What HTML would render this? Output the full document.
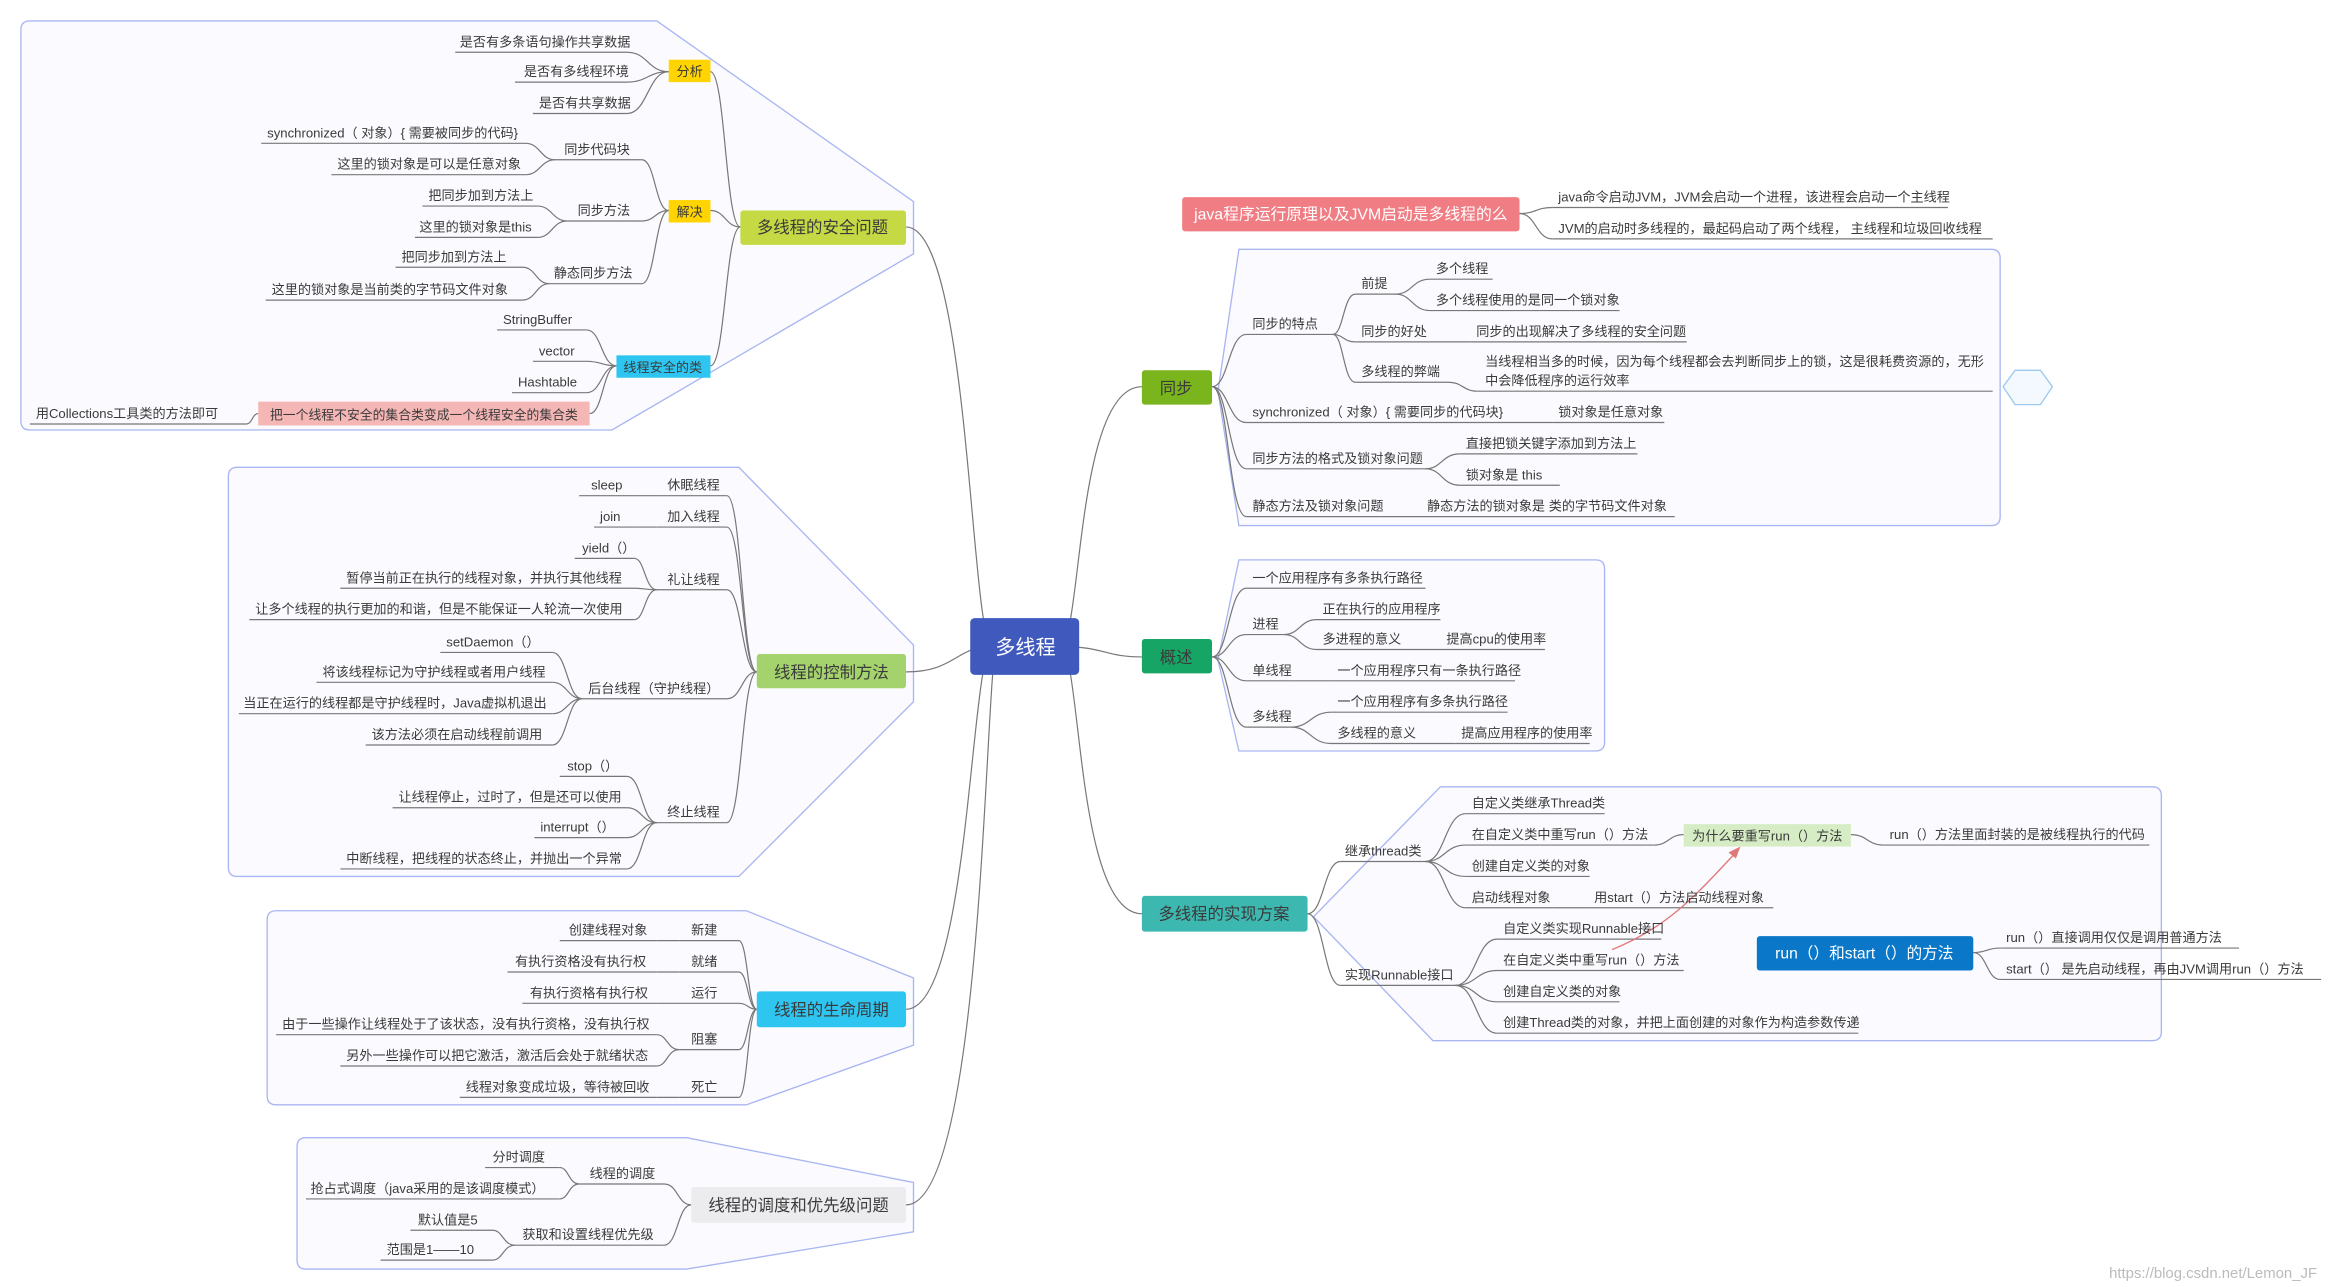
<!DOCTYPE html>
<html><head><meta charset="utf-8"><style>
html,body{margin:0;padding:0;background:#fff;}
svg{display:block;}
text{font-family:"Liberation Sans","Noto Sans CJK SC",sans-serif;font-size:8.8px;fill:#3a3a3a;}
.b{font-size:11px;}
.l{stroke:#777;stroke-width:0.8;fill:none;}
.c{stroke:#777;stroke-width:0.8;fill:none;}
.bd{stroke:#aab6f2;stroke-width:0.9;fill:#fbfbff;}
</style></head><body>
<svg width="2333" height="1287" viewBox="0 0 1563 862" preserveAspectRatio="none" xmlns="http://www.w3.org/2000/svg">
<rect width="1563" height="862" fill="#fff"/>
<path class="bd" d="M20,14 H440 L612,135 V170 L410,288 H20 Q14,288 14,282 V20 Q14,14 20,14 Z"/>
<path class="bd" d="M159,313 H495 L612,432 V470 L495,587 H159 Q153,587 153,581 V319 Q153,313 159,313 Z"/>
<path class="bd" d="M185,610 H500 L612,655 V700 L500,740 H185 Q179,740 179,734 V616 Q179,610 185,610 Z"/>
<path class="bd" d="M205,762 H460 L612,792 V825 L460,850 H205 Q199,850 199,844 V768 Q199,762 205,762 Z"/>
<path class="bd" d="M830,167 H1334 Q1340,167 1340,173 V346 Q1340,352 1334,352 H830 L816,262 Z"/>
<path class="bd" d="M830,375 H1069 Q1075,375 1075,381 V497 Q1075,503 1069,503 H830 L816,442 Z"/>
<path class="bd" d="M965,527 H1442 Q1448,527 1448,533 V691 Q1448,697 1442,697 H960 L880,614 Z"/>
<polygon points="1342,259 1350,248 1367,248 1375,259 1367,271 1350,271" fill="#f3f9fe" stroke="#9cc8ee" stroke-width="0.9"/>

<g class="c">
<path d="M607,152 C650,152 650,433 665,433"/>
<path d="M607,450 C640,450 640,433 665,433"/>
<path d="M607,676 C650,676 650,433 665,433"/>
<path d="M607,807 C660,807 660,433 668,433"/>
<path d="M710,433 C725,433 720,259 765,259"/>
<path d="M710,433 C740,433 740,440 765,440"/>
<path d="M710,433 C725,433 720,612 765,612"/>
</g>

<g class="l">
<path d="M305,35 H420"/><path d="M345,55 H420"/><path d="M357,76 H420"/>
<path d="M372,107 H430"/><path d="M380,148 H430"/><path d="M368,190 H430"/>
<path d="M175,96 H352"/><path d="M222,117 H352"/>
<path d="M283,138 H360"/><path d="M278,159 H360"/>
<path d="M265,179 H350"/><path d="M178,201 H350"/>
<path d="M333,221 H393"/><path d="M357,242 H393"/><path d="M343,263 H393"/>
<path d="M20,284 H165"/>
</g>
<g class="c">
<path d="M420,35 C434,35 434,48 448,48"/><path d="M420,55 C434,55 434,48 448,48"/><path d="M420,76 C434,76 434,48 448,48"/>
<path d="M476,48 C486,48 486,152 496,152"/><path d="M476,141 C486,141 486,152 496,152"/>
<path d="M476,245 C486,245 486,152 496,152"/>
<path d="M430,107 C439,107 439,141 448,141"/><path d="M430,148 C439,148 439,141 448,141"/><path d="M430,190 C439,190 439,141 448,141"/>
<path d="M352,96 C362,96 362,107 372,107"/><path d="M352,117 C362,117 362,107 372,107"/>
<path d="M360,138 C370,138 370,148 380,148"/><path d="M360,159 C370,159 370,148 380,148"/>
<path d="M350,179 C359,179 359,190 368,190"/><path d="M350,201 C359,201 359,190 368,190"/>
<path d="M393,221 C403,221 403,245 413,245"/><path d="M393,242 C403,242 403,245 413,245"/><path d="M393,263 C403,263 403,245 413,245"/>
<path d="M395,277 C404,277 404,245 413,245"/>
<path d="M165,284 C169,284 169,277 173,277"/>
</g>
<rect x="496" y="141" width="111" height="23" rx="2" fill="#c5d944"/>
<text class="b" x="551" y="156" text-anchor="middle">多线程的安全问题</text>
<rect x="448" y="40" width="28" height="15" fill="#ffd400"/><text x="462" y="51" text-anchor="middle">分析</text>
<rect x="448" y="134" width="28" height="15" fill="#ffd400"/><text x="462" y="145" text-anchor="middle">解决</text>
<rect x="413" y="238" width="63" height="15" fill="#2ec5f0"/><text x="444" y="249" text-anchor="middle">线程安全的类</text>
<rect x="173" y="269" width="222" height="16" fill="#f4b7b5"/><text x="284" y="281" text-anchor="middle" style="font-size:8.6px">把一个线程不安全的集合类变成一个线程安全的集合类</text>
<text x="308" y="31">是否有多条语句操作共享数据</text>
<text x="351" y="51">是否有多线程环境</text>
<text x="361" y="72">是否有共享数据</text>
<text x="378" y="103">同步代码块</text>
<text x="387" y="144">同步方法</text>
<text x="371" y="186">静态同步方法</text>
<text x="179" y="92">synchronized（ 对象）{ 需要被同步的代码}</text>
<text x="226" y="113">这里的锁对象是可以是任意对象</text>
<text x="287" y="134">把同步加到方法上</text>
<text x="281" y="155">这里的锁对象是this</text>
<text x="269" y="175">把同步加到方法上</text>
<text x="182" y="197">这里的锁对象是当前类的字节码文件对象</text>
<text x="337" y="217">StringBuffer</text>
<text x="361" y="238">vector</text>
<text x="347" y="259">Hashtable</text>
<text x="24" y="280">用Collections工具类的方法即可</text>

<g class="l">
<path d="M440,332 H487"/><path d="M388,332 H425"/>
<path d="M440,353 H487"/><path d="M398,353 H425"/>
<path d="M440,395 H487"/><path d="M385,374 H425"/><path d="M228,394 H425"/><path d="M167,415 H425"/>
<path d="M390,468 H487"/><path d="M295,437 H370"/><path d="M212,457 H370"/><path d="M160,478 H370"/><path d="M245,499 H370"/>
<path d="M440,551 H487"/><path d="M375,520 H420"/><path d="M263,541 H420"/><path d="M358,561 H420"/><path d="M228,582 H420"/>
</g>
<g class="c">
<path d="M487,332 C497,332 497,450 507,450"/><path d="M487,353 C497,353 497,450 507,450"/><path d="M487,395 C497,395 497,450 507,450"/><path d="M487,468 C497,468 497,450 507,450"/><path d="M487,551 C497,551 497,450 507,450"/>
<path d="M425,332 H440"/><path d="M425,353 H440"/>
<path d="M425,374 C432,374 432,395 440,395"/><path d="M425,394 C432,394 432,395 440,395"/><path d="M425,415 C432,415 432,395 440,395"/>
<path d="M370,437 C380,437 380,468 390,468"/><path d="M370,457 C380,457 380,468 390,468"/><path d="M370,478 C380,478 380,468 390,468"/><path d="M370,499 C380,499 380,468 390,468"/>
<path d="M420,520 C430,520 430,551 440,551"/><path d="M420,541 C430,541 430,551 440,551"/><path d="M420,561 C430,561 430,551 440,551"/><path d="M420,582 C430,582 430,551 440,551"/>
</g>
<rect x="507" y="438" width="100" height="23" rx="2" fill="#a4d26c"/>
<text class="b" x="557" y="454" text-anchor="middle">线程的控制方法</text>
<text x="447" y="328">休眠线程</text><text x="396" y="328">sleep</text>
<text x="447" y="349">加入线程</text><text x="402" y="349">join</text>
<text x="447" y="391">礼让线程</text><text x="390" y="370">yield（）</text>
<text x="232" y="390">暂停当前正在执行的线程对象，并执行其他线程</text>
<text x="171" y="411">让多个线程的执行更加的和谐，但是不能保证一人轮流一次使用</text>
<text x="394" y="464">后台线程（守护线程）</text>
<text x="299" y="433">setDaemon（）</text>
<text x="216" y="453">将该线程标记为守护线程或者用户线程</text>
<text x="163" y="474">当正在运行的线程都是守护线程时，Java虚拟机退出</text>
<text x="249" y="495">该方法必须在启动线程前调用</text>
<text x="447" y="547">终止线程</text>
<text x="380" y="516">stop（）</text>
<text x="267" y="537">让线程停止，过时了，但是还可以使用</text>
<text x="362" y="557">interrupt（）</text>
<text x="232" y="578">中断线程，把线程的状态终止，并抛出一个异常</text>

<g class="l">
<path d="M455,630 H495"/><path d="M375,630 H440"/>
<path d="M455,651 H495"/><path d="M340,651 H440"/>
<path d="M455,672 H495"/><path d="M350,672 H440"/>
<path d="M455,703 H495"/><path d="M185,693 H440"/><path d="M228,714 H440"/>
<path d="M455,735 H495"/><path d="M308,735 H440"/>
</g>
<g class="c">
<path d="M495,630 C501,630 501,676 507,676"/><path d="M495,651 C501,651 501,676 507,676"/><path d="M495,672 C501,672 501,676 507,676"/><path d="M495,703 C501,703 501,676 507,676"/><path d="M495,735 C501,735 501,676 507,676"/>
<path d="M440,630 H455"/><path d="M440,651 H455"/><path d="M440,672 H455"/><path d="M440,735 H455"/>
<path d="M440,693 C447,693 447,703 455,703"/><path d="M440,714 C447,714 447,703 455,703"/>
</g>
<rect x="507" y="664" width="100" height="24" rx="2" fill="#2ec5f0"/>
<text class="b" x="557" y="680" text-anchor="middle">线程的生命周期</text>
<text x="463" y="626">新建</text><text x="381" y="626">创建线程对象</text>
<text x="463" y="647">就绪</text><text x="345" y="647">有执行资格没有执行权</text>
<text x="463" y="668">运行</text><text x="355" y="668">有执行资格有执行权</text>
<text x="463" y="699">阻塞</text><text x="189" y="689">由于一些操作让线程处于了该状态，没有执行资格，没有执行权</text>
<text x="232" y="710">另外一些操作可以把它激活，激活后会处于就绪状态</text>
<text x="463" y="731">死亡</text><text x="312" y="731">线程对象变成垃圾，等待被回收</text>

<g class="l">
<path d="M388,793 H445"/><path d="M325,782 H375"/><path d="M205,803 H375"/>
<path d="M345,834 H445"/><path d="M275,824 H330"/><path d="M255,844 H330"/>
</g>
<g class="c">
<path d="M445,793 C454,793 454,807 463,807"/><path d="M445,834 C454,834 454,807 463,807"/>
<path d="M375,782 C381,782 381,793 388,793"/><path d="M375,803 C381,803 381,793 388,793"/>
<path d="M330,824 C337,824 337,834 345,834"/><path d="M330,844 C337,844 337,834 345,834"/>
</g>
<rect x="463" y="795" width="144" height="24" rx="2" fill="#ececef"/>
<text class="b" x="535" y="811" text-anchor="middle">线程的调度和优先级问题</text>
<text x="395" y="789">线程的调度</text><text x="330" y="778">分时调度</text>
<text x="208" y="799">抢占式调度（java采用的是该调度模式）</text>
<text x="350" y="830">获取和设置线程优先级</text><text x="280" y="820">默认值是5</text><text x="259" y="840">范围是1——10</text>

<rect x="650" y="414" width="73" height="38" rx="3" fill="#3f59bd"/>
<text x="687" y="438" text-anchor="middle" style="font-size:13.5px;fill:#fff">多线程</text>

<g class="l"><path d="M1040,139 H1305"/><path d="M1040,160 H1335"/></g>
<g class="c"><path d="M1018,143 C1029,143 1029,139 1040,139"/><path d="M1018,143 C1029,143 1029,160 1040,160"/></g>
<rect x="792" y="132" width="226" height="23" rx="2" fill="#f07d83"/>
<text x="905" y="147" text-anchor="middle" textLength="210" lengthAdjust="spacingAndGlyphs" style="font-size:10.5px;fill:#fff">java程序运行原理以及JVM启动是多线程的么</text>
<text x="1044" y="135">java命令启动JVM，JVM会启动一个进程，该进程会启动一个主线程</text>
<text x="1044" y="156">JVM的启动时多线程的，最起码启动了两个线程，  主线程和垃圾回收线程</text>

<g class="l">
<path d="M835,224 H893"/><path d="M908,197 H935"/><path d="M958,187 H1000"/><path d="M958,208 H1085"/>
<path d="M908,229 H960"/><path d="M985,229 H1130"/>
<path d="M908,256 H970"/><path d="M990,262 H1335"/>
<path d="M835,283 H1020"/><path d="M1040,283 H1115"/>
<path d="M835,314 H955"/><path d="M978,304 H1097"/><path d="M978,325 H1045"/>
<path d="M835,346 H925"/><path d="M952,346 H1122"/>
</g>
<g class="c">
<path d="M812,259 C823,259 823,224 835,224"/><path d="M812,259 C823,259 823,283 835,283"/><path d="M812,259 C823,259 823,314 835,314"/><path d="M812,259 C823,259 823,346 835,346"/>
<path d="M893,224 C900,224 900,197 908,197"/><path d="M893,224 C900,224 900,229 908,229"/><path d="M893,224 C900,224 900,256 908,256"/>
<path d="M935,197 C946,197 946,187 958,187"/><path d="M935,197 C946,197 946,208 958,208"/>
<path d="M960,229 H985"/><path d="M970,256 C980,256 980,262 990,262"/>
<path d="M1020,283 H1040"/>
<path d="M955,314 C966,314 966,304 978,304"/><path d="M955,314 C966,314 966,325 978,325"/>
<path d="M925,346 H952"/>
</g>
<rect x="765" y="248" width="47" height="23" rx="2" fill="#7ab51d"/>
<text class="b" x="788" y="264" text-anchor="middle">同步</text>
<text x="839" y="220">同步的特点</text>
<text x="912" y="193">前提</text><text x="962" y="183">多个线程</text><text x="962" y="204">多个线程使用的是同一个锁对象</text>
<text x="912" y="225">同步的好处</text><text x="989" y="225">同步的出现解决了多线程的安全问题</text>
<text x="912" y="252">多线程的弊端</text>
<text x="995" y="245">当线程相当多的时候，因为每个线程都会去判断同步上的锁，这是很耗费资源的，无形</text>
<text x="995" y="258">中会降低程序的运行效率</text>
<text x="839" y="279">synchronized（ 对象）{ 需要同步的代码块}</text><text x="1044" y="279">锁对象是任意对象</text>
<text x="839" y="310">同步方法的格式及锁对象问题</text>
<text x="982" y="300">直接把锁关键字添加到方法上</text><text x="982" y="321">锁对象是    this</text>
<text x="839" y="342">静态方法及锁对象问题</text><text x="956" y="342">静态方法的锁对象是   类的字节码文件对象</text>

<g class="l">
<path d="M835,394 H955"/>
<path d="M835,425 H860"/><path d="M882,415 H965"/><path d="M882,435 H940"/><path d="M965,435 H1035"/>
<path d="M835,456 H865"/><path d="M892,456 H1015"/>
<path d="M835,487 H865"/><path d="M892,477 H1010"/><path d="M892,498 H948"/><path d="M975,498 H1065"/>
</g>
<g class="c">
<path d="M812,440 C823,440 823,394 835,394"/><path d="M812,440 C823,440 823,425 835,425"/><path d="M812,440 C823,440 823,456 835,456"/><path d="M812,440 C823,440 823,487 835,487"/>
<path d="M860,425 C871,425 871,415 882,415"/><path d="M860,425 C871,425 871,435 882,435"/><path d="M940,435 H965"/>
<path d="M865,456 H892"/>
<path d="M865,487 C878,487 878,477 892,477"/><path d="M865,487 C878,487 878,498 892,498"/><path d="M948,498 H975"/>
</g>
<rect x="765" y="428" width="47" height="23" rx="2" fill="#17a566"/>
<text class="b" x="788" y="444" text-anchor="middle">概述</text>
<text x="839" y="390">一个应用程序有多条执行路径</text>
<text x="839" y="421">进程</text><text x="886" y="411">正在执行的应用程序</text><text x="886" y="431">多进程的意义</text><text x="969" y="431">提高cpu的使用率</text>
<text x="839" y="452">单线程</text><text x="896" y="452">一个应用程序只有一条执行路径</text>
<text x="839" y="483">多线程</text><text x="896" y="473">一个应用程序有多条执行路径</text><text x="896" y="494">多线程的意义</text><text x="979" y="494">提高应用程序的使用率</text>

<g class="l">
<path d="M898,577 H955"/><path d="M982,545 H1075"/><path d="M982,566 H1108"/><path d="M982,587 H1065"/><path d="M982,608 H1040"/><path d="M1065,608 H1188"/>
<path d="M1262,566 H1440"/>
<path d="M898,660 H975"/><path d="M1003,629 H1113"/><path d="M1003,650 H1128"/><path d="M1003,671 H1085"/><path d="M1003,692 H1245"/>
<path d="M1340,635 H1500"/><path d="M1340,656 H1555"/>
</g>
<g class="c">
<path d="M876,612 C887,612 887,577 898,577"/><path d="M876,612 C887,612 887,660 898,660"/>
<path d="M955,577 C968,577 968,545 982,545"/><path d="M955,577 C968,577 968,566 982,566"/><path d="M955,577 C968,577 968,587 982,587"/><path d="M955,577 C968,577 968,608 982,608"/>
<path d="M1040,608 H1065"/><path d="M1108,566 C1118,566 1118,559 1128,559"/><path d="M1240,559 C1251,559 1251,566 1262,566"/>
<path d="M975,660 C989,660 989,629 1003,629"/><path d="M975,660 C989,660 989,650 1003,650"/><path d="M975,660 C989,660 989,671 1003,671"/><path d="M975,660 C989,660 989,692 1003,692"/>
<path d="M1322,638 C1331,638 1331,635 1340,635"/><path d="M1322,638 C1331,638 1331,656 1340,656"/>
</g>
<path d="M1080,636 C1120,620 1140,595 1163,571" stroke="#e0787a" stroke-width="0.9" fill="none"/>
<polygon points="1166,567 1158,571 1163,575" fill="#e0787a"/>
<rect x="765" y="600" width="111" height="24" rx="2" fill="#3db8b0"/>
<text class="b" x="820" y="616" text-anchor="middle">多线程的实现方案</text>
<rect x="1128" y="552" width="112" height="15" fill="#d5ecc4"/><text x="1184" y="563" text-anchor="middle">为什么要重写run（）方法</text>
<rect x="1177" y="627" width="145" height="23" rx="2" fill="#0b77c8"/>
<text x="1249" y="642" text-anchor="middle" style="font-size:10.5px;fill:#fff">run（）和start（）的方法</text>
<text x="901" y="573">继承thread类</text>
<text x="986" y="541">自定义类继承Thread类</text>
<text x="986" y="562">在自定义类中重写run（）方法</text>
<text x="1266" y="562">run（）方法里面封装的是被线程执行的代码</text>
<text x="986" y="583">创建自定义类的对象</text>
<text x="986" y="604">启动线程对象</text><text x="1068" y="604">用start（）方法启动线程对象</text>
<text x="901" y="656">实现Runnable接口</text>
<text x="1007" y="625">自定义类实现Runnable接口</text>
<text x="1007" y="646">在自定义类中重写run（）方法</text>
<text x="1007" y="667">创建自定义类的对象</text>
<text x="1007" y="688">创建Thread类的对象，并把上面创建的对象作为构造参数传递</text>
<text x="1344" y="631">run（）直接调用仅仅是调用普通方法</text>
<text x="1344" y="652">start（）  是先启动线程，再由JVM调用run（）方法</text>

<text x="1413" y="856" style="fill:#bbb;font-size:10px">https://blog.csdn.net/Lemon_JF</text>
</svg>
</body></html>
